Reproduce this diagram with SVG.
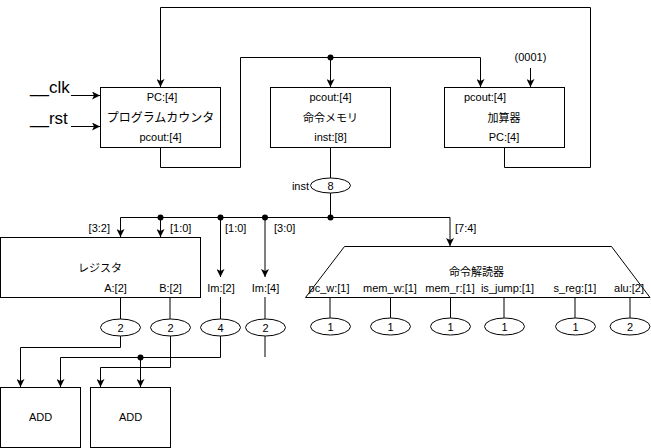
<svg xmlns="http://www.w3.org/2000/svg" width="651" height="448" viewBox="0 0 651 448">
<style>
  .b{fill:#fff;stroke:#000;stroke-width:1}
  .l{fill:none;stroke:#000;stroke-width:1}
  .g{fill:none;stroke:#000;stroke-width:1}
  .t{font-family:"Liberation Sans","Noto Sans CJK JP",Arial,sans-serif;font-size:11px;fill:#000;text-anchor:middle}
  .j{font-family:"Noto Sans CJK JP","Liberation Sans",sans-serif;font-size:11px;fill:#000;text-anchor:middle}
  .big{font-family:"Liberation Sans",Arial,sans-serif;font-size:17px;fill:#000}
  .d{fill:#000}
</style>
<defs>
  <marker id="arr" markerWidth="8" markerHeight="8" refX="8" refY="4" orient="auto" markerUnits="userSpaceOnUse">
    <path d="M0,0 L8,4 L0,8 L2,4 z" fill="#000"/>
  </marker>
</defs>

<g id="connectors">
  <polyline class="l" points="504.5,147 504.5,167.5 590.5,167.5 590.5,7.5 160.5,7.5 160.5,87" marker-end="url(#arr)"/>
  <polyline class="l" points="160.5,147 160.5,167.5 240.5,167.5 240.5,57.5 480.5,57.5 480.5,87" marker-end="url(#arr)"/>
  <line class="l" x1="330.5" y1="57.5" x2="330.5" y2="87" marker-end="url(#arr)"/>
  <circle class="d" cx="330.5" cy="57.5" r="3"/>
  <line class="l" x1="530.5" y1="68" x2="530.5" y2="87" marker-end="url(#arr)"/>
  <line class="l" x1="71" y1="95.5" x2="100" y2="95.5" marker-end="url(#arr)"/>
  <line class="l" x1="71" y1="126.5" x2="100" y2="126.5" marker-end="url(#arr)"/>
  <line class="l" x1="330.5" y1="147" x2="330.5" y2="178"/>
  <line class="l" x1="330.5" y1="193" x2="330.5" y2="217.5"/>
  <polyline class="l" points="330.5,217.5 120.5,217.5 120.5,237" marker-end="url(#arr)"/>
  <line class="l" x1="160.5" y1="217.5" x2="160.5" y2="237" marker-end="url(#arr)"/>
  <line class="l" x1="220.5" y1="217.5" x2="220.5" y2="277" marker-end="url(#arr)"/>
  <line class="g" x1="265" y1="217.5" x2="265" y2="277" marker-end="url(#arr)"/>
  <polyline class="g" points="330.5,217.5 450,217.5 450,246" marker-end="url(#arr)"/>
  <circle class="d" cx="330.5" cy="217.5" r="3"/>
  <circle class="d" cx="160.5" cy="217.5" r="3"/>
  <circle class="d" cx="220.5" cy="217.5" r="3"/>
  <circle class="d" cx="265" cy="217.5" r="3"/>
  <line class="l" x1="120.5" y1="297" x2="120.5" y2="319"/>
  <line class="g" x1="170" y1="297" x2="170" y2="319"/>
  <line class="l" x1="220.5" y1="297" x2="220.5" y2="319"/>
  <line class="g" x1="265" y1="297" x2="265" y2="319"/>
  <polyline class="l" points="120.5,336 120.5,347.5 20.5,347.5 20.5,387" marker-end="url(#arr)"/>
  <polyline class="l" points="220.5,336 220.5,357.5 60.5,357.5 60.5,387" marker-end="url(#arr)"/>
  <line class="l" x1="140.5" y1="357.5" x2="140.5" y2="387" marker-end="url(#arr)"/>
  <circle class="d" cx="140.5" cy="357.5" r="3"/>
  <polyline class="l" points="170.5,336 170.5,367.5 100.5,367.5 100.5,387" marker-end="url(#arr)"/>
  <line class="l" x1="265" y1="336" x2="265" y2="357"/>
  <line class="g" x1="330" y1="297" x2="330" y2="318"/>
  <line class="l" x1="390.5" y1="297" x2="390.5" y2="318"/>
  <line class="l" x1="450.5" y1="297" x2="450.5" y2="318"/>
  <line class="g" x1="504" y1="297" x2="504" y2="318"/>
  <line class="g" x1="575" y1="297" x2="575" y2="318"/>
  <line class="g" x1="630" y1="297" x2="630" y2="318"/>
</g>

<g id="clk">
  <text class="big" x="30" y="93">__clk</text>
</g>
<g id="rst">
  <text class="big" x="30" y="124">__rst</text>
</g>
<g id="const0001">
  <text class="t" x="530.5" y="61">(0001)</text>
</g>

<g id="pc">
  <rect class="b" x="100.5" y="87.5" width="120" height="60"/>
  <text class="t" x="162" y="101">PC:[4]</text>
  <text class="j" x="160.5" y="122" style="font-size:12px">プログラムカウンタ</text>
  <text class="t" x="160.5" y="141">pcout:[4]</text>
</g>

<g id="imem">
  <rect class="b" x="270.5" y="87.5" width="120" height="60"/>
  <text class="t" x="330.5" y="101">pcout:[4]</text>
  <text class="j" x="330.5" y="122">命令メモリ</text>
  <text class="t" x="330.5" y="141">inst:[8]</text>
</g>

<g id="adder">
  <rect class="b" x="444.5" y="87.5" width="120" height="60"/>
  <text class="t" x="485" y="101">pcout:[4]</text>
  <text class="j" x="504" y="122">加算器</text>
  <text class="t" x="504" y="141">PC:[4]</text>
</g>

<g id="inst">
  <ellipse class="b" cx="330.5" cy="185.5" rx="20" ry="7.5"/>
  <text class="t" x="330.5" y="189.5">8</text>
  <text class="t" x="309" y="190" style="text-anchor:end">inst</text>
</g>

<g id="bus-labels">
  <text class="t" x="110" y="232" style="text-anchor:end">[3:2]</text>
  <text class="t" x="170" y="232" style="text-anchor:start">[1:0]</text>
  <text class="t" x="225" y="232" style="text-anchor:start">[1:0]</text>
  <text class="t" x="274" y="232" style="text-anchor:start">[3:0]</text>
  <text class="t" x="455" y="232" style="text-anchor:start">[7:4]</text>
</g>

<g id="register">
  <rect class="b" x="0.5" y="237.5" width="200" height="60"/>
  <text class="j" x="100" y="272">レジスタ</text>
  <text class="t" x="115.5" y="292">A:[2]</text>
  <text class="t" x="170.5" y="292">B:[2]</text>
</g>
<g id="im2"><text class="t" x="221" y="292">Im:[2]</text></g>
<g id="im4"><text class="t" x="265.5" y="292">Im:[4]</text></g>

<g id="w-a"><ellipse class="b" cx="120.5" cy="327.5" rx="20" ry="8.5"/><text class="t" x="120.5" y="331.5">2</text></g>
<g id="w-b"><ellipse class="b" cx="170.5" cy="327.5" rx="20" ry="8.5"/><text class="t" x="170.5" y="331.5">2</text></g>
<g id="w-im2"><ellipse class="b" cx="220.5" cy="327.5" rx="20" ry="8.5"/><text class="t" x="220.5" y="331.5">4</text></g>
<g id="w-im4"><ellipse class="b" cx="265.5" cy="327.5" rx="20" ry="8.5"/><text class="t" x="265.5" y="331.5">2</text></g>

<g id="add1">
  <rect class="b" x="0.5" y="387.5" width="80" height="60"/>
  <text class="t" x="40.5" y="421">ADD</text>
</g>
<g id="add2">
  <rect class="b" x="90.5" y="387.5" width="80" height="60"/>
  <text class="t" x="130.5" y="421">ADD</text>
</g>

<g id="decoder">
  <polygon class="b" points="344.5,246.5 611.5,246.5 650,297.5 305.5,297.5"/>
  <text class="j" x="476.5" y="276">命令解読器</text>
  <text class="t" x="329" y="292">pc_w:[1]</text>
  <text class="t" x="390" y="292">mem_w:[1]</text>
  <text class="t" x="450" y="292">mem_r:[1]</text>
  <text class="t" x="507.5" y="292">is_jump:[1]</text>
  <text class="t" x="575" y="292">s_reg:[1]</text>
  <text class="t" x="629" y="292">alu:[2]</text>
</g>

<g id="w-pcw"><ellipse class="b" cx="330.5" cy="326.5" rx="20" ry="8.5"/><text class="t" x="330.5" y="330.5">1</text></g>
<g id="w-memw"><ellipse class="b" cx="390.5" cy="326.5" rx="20" ry="8.5"/><text class="t" x="390.5" y="330.5">1</text></g>
<g id="w-memr"><ellipse class="b" cx="450.5" cy="326.5" rx="20" ry="8.5"/><text class="t" x="450.5" y="330.5">1</text></g>
<g id="w-jump"><ellipse class="b" cx="504.5" cy="326.5" rx="20" ry="8.5"/><text class="t" x="504.5" y="330.5">1</text></g>
<g id="w-sreg"><ellipse class="b" cx="575.5" cy="326.5" rx="20" ry="8.5"/><text class="t" x="575.5" y="330.5">1</text></g>
<g id="w-alu"><ellipse class="b" cx="630" cy="326.5" rx="20" ry="8.5"/><text class="t" x="630" y="330.5">2</text></g>
</svg>
